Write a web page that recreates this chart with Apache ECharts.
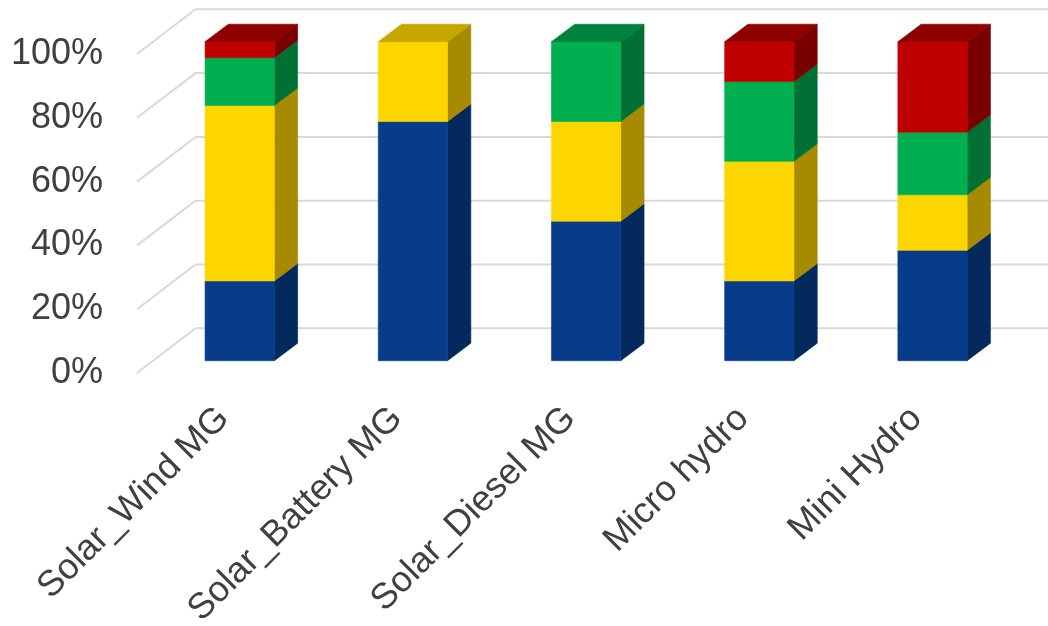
<!DOCTYPE html>
<html>
<head>
<meta charset="utf-8">
<script src="https://cdn.jsdelivr.net/npm/echarts@6/dist/echarts.min.js"></script>
<style>
html,body{margin:0;padding:0;background:#fff;}
#chart{width:1048px;height:626px;}
</style>
</head>
<body>
<div id="chart"></div>
<script>
const categories = ['Solar_Wind MG', 'Solar_Battery MG', 'Solar_Diesel MG', 'Micro hydro', 'Mini Hydro'];
const blueValues   = [25, 75, 43.75, 25, 34.6];
const yellowValues = [55, 25, 31.25, 37.5, 17.4];
const greenValues  = [15, 0, 25, 25, 19.6];
const redValues    = [5, 0, 0, 12.5, 28.4];
const yTicks = [0, 20, 40, 60, 80, 100];

const seriesValues = [blueValues, yellowValues, greenValues, redValues];
const seriesNames = ['Blue', 'Yellow', 'Green', 'Red'];
const faceColors = [
  {front: '#073C8B', side: '#04295C', top: '#05306F'},
  {front: '#FDD600', side: '#A68A00', top: '#C4A800'},
  {front: '#00AF50', side: '#007034', top: '#00823C'},
  {front: '#C00000', side: '#7A0000', top: '#8E0000'}
];

// geometry of pseudo-3D
const WALL_DX = 58.6, WALL_DY = 44.7;   // floor front edge -> back wall
const BAR_OX = 16.1, BAR_OY = 12.3;     // floor front edge -> bar front face
const BAR_DX = 23.3, BAR_DY = 17.5;     // bar depth

// build stacked segments
function buildSegments(k) {
  const out = [];
  for (let i = 0; i < categories.length; i++) {
    let base = 0;
    for (let j = 0; j < k; j++) base += seriesValues[j][i];
    const v = seriesValues[k][i];
    let above = 0;
    for (let j = k + 1; j < seriesValues.length; j++) above += seriesValues[j][i];
    out.push([i, base, base + v, above > 0 ? 0 : 1, v]);
  }
  return out;
}

function barRenderer(k) {
  const c = faceColors[k];
  return function (params, api) {
    const v = api.value(4);
    if (!(v > 0)) return null;
    const i = api.value(0), b = api.value(1), t = api.value(2), isTop = api.value(3);
    const p0 = api.coord([i, b]);
    const p1 = api.coord([i, t]);
    const bw = api.size([1, 0])[0] * 0.4;
    const xl = p0[0] - bw / 2 + BAR_OX;
    const xr = xl + bw;
    const yb = p0[1] - BAR_OY;
    const yt = p1[1] - BAR_OY;
    const children = [
      {type: 'polygon', shape: {points: [[xr, yb], [xr + BAR_DX, yb - BAR_DY], [xr + BAR_DX, yt - BAR_DY], [xr, yt]]},
       style: {fill: c.side, stroke: c.side, lineWidth: 0.6}},
      {type: 'rect', shape: {x: xl, y: yt, width: bw, height: yb - yt},
       style: {fill: c.front, stroke: c.front, lineWidth: 0.6}}
    ];
    if (isTop) {
      children.push({type: 'polygon', shape: {points: [[xl, yt], [xr, yt], [xr + BAR_DX, yt - BAR_DY], [xl + BAR_DX, yt - BAR_DY]]},
        style: {fill: c.top, stroke: c.top, lineWidth: 0.6}});
    }
    return {type: 'group', children: children};
  };
}

const chart = echarts.init(document.getElementById('chart'), null, {renderer: 'canvas'});

const series = [{
  type: 'custom',
  name: 'grid',
  silent: true,
  z: 1,
  data: yTicks.map(v => [0, v]),
  renderItem: function (params, api) {
    const p = api.coord([0, api.value(1)]);
    const gx = params.coordSys.x;
    const y = p[1];
    return {
      type: 'polyline',
      shape: {points: [[gx, y], [gx + WALL_DX, y - WALL_DY], [1060, y - WALL_DY]]},
      style: {stroke: '#D9D9D9', lineWidth: 2, fill: null}
    };
  }
}];

for (let k = 0; k < seriesValues.length; k++) {
  series.push({
    type: 'custom',
    name: seriesNames[k],
    z: 2 + k,
    data: buildSegments(k),
    renderItem: barRenderer(k)
  });
}

chart.setOption({
  animation: false,
  backgroundColor: '#ffffff',
  grid: {left: 137, top: 54, width: 866, height: 319, containLabel: false, outerBoundsMode: 'none'},
  xAxis: {
    type: 'category',
    data: categories,
    axisLine: {show: false},
    axisTick: {show: false},
    splitLine: {show: false},
    axisLabel: {
      interval: 0,
      rotate: 45,
      margin: 40,
      fontSize: 36,
      color: '#404040',
      fontFamily: '"Liberation Sans", Arial, sans-serif'
    }
  },
  yAxis: {
    type: 'value',
    min: 0,
    max: 100,
    interval: 20,
    axisLine: {show: false},
    axisTick: {show: false},
    splitLine: {show: false},
    axisLabel: {
      formatter: '{value}%',
      margin: 34,
      padding: [7, 0, 0, 0],
      fontSize: 36,
      color: '#404040',
      fontFamily: '"Liberation Sans", Arial, sans-serif'
    }
  },
  series: series
});
</script>
</body>
</html>
